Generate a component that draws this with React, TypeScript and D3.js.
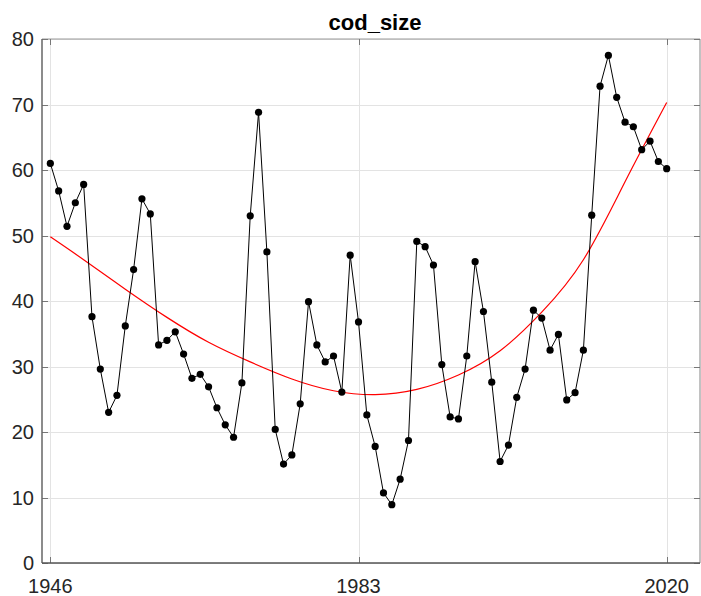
import { useRef, useEffect } from "react";
import * as d3 from "d3";

const years = d3.range(1946, 2021);
const codSize = [
  61.0, 56.8, 51.4, 55.0, 57.8, 37.6, 29.6, 23.0, 25.6, 36.2,
  44.8, 55.6, 53.3, 33.3, 34.0, 35.3, 31.9, 28.2, 28.8, 26.9,
  23.7, 21.1, 19.2, 27.5, 53.0, 68.8, 47.5, 20.4, 15.1, 16.5,
  24.3, 39.9, 33.3, 30.7, 31.6, 26.1, 47.0, 36.8, 22.6, 17.8,
  10.7, 8.9, 12.8, 18.7, 49.1, 48.3, 45.5, 30.3, 22.3, 22.0,
  31.6, 46.0, 38.4, 27.6, 15.5, 18.0, 25.3, 29.6, 38.6, 37.4,
  32.5, 34.9, 24.9, 26.0, 32.5, 53.1, 72.8, 77.5, 71.1, 67.3,
  66.6, 63.1, 64.4, 61.3, 60.2,
];
// red trend curve
const trendYears = [1946, 1950, 1955, 1960, 1965, 1970, 1975, 1980, 1985, 1990, 1995, 2000, 2005, 2010, 2015, 2020];
const trendValues = [49.8, 46.3, 41.8, 37.5, 33.7, 30.7, 28.1, 26.3, 25.7, 26.5, 28.7, 32.4, 38.3, 46.3, 58.2, 70.3];
const xTicks = [1946, 1983, 2020];
const yTicks = [0, 10, 20, 30, 40, 50, 60, 70, 80];

export default function App() {
  const svgRef = useRef<SVGSVGElement>(null);
  const width = 701;
  const height = 596;
  const m = { top: 39, right: 1, bottom: 33, left: 42 };

  useEffect(() => {
    if (!svgRef.current) return;
    const svg = d3.select(svgRef.current);
    svg.selectAll("*").remove();

    const x = d3.scaleLinear().domain([1945, 2024]).range([m.left, width - m.right]);
    const y = d3.scaleLinear().domain([0, 80]).range([height - m.bottom, m.top]);
    const font = "'Liberation Sans', Arial, sans-serif";
    const axisColor = "#262626";

    // grid
    const grid = svg.append("g").attr("stroke", "#e3e3e3").attr("stroke-width", 1);
    yTicks.forEach((t) => {
      grid.append("line").attr("x1", x(1945)).attr("x2", x(2024))
        .attr("y1", Math.round(y(t)) + 0.5).attr("y2", Math.round(y(t)) + 0.5);
    });
    xTicks.forEach((t) => {
      grid.append("line").attr("y1", y(0)).attr("y2", y(80))
        .attr("x1", Math.round(x(t)) + 0.5).attr("x2", Math.round(x(t)) + 0.5);
    });

    // box: top and right lighter
    svg.append("line").attr("x1", x(1945)).attr("x2", x(2024))
      .attr("y1", y(80)).attr("y2", y(80)).attr("stroke", "#999").attr("stroke-width", 1.2);
    svg.append("line").attr("x1", x(2024)).attr("x2", x(2024))
      .attr("y1", y(80)).attr("y2", y(0)).attr("stroke", "#999").attr("stroke-width", 1.2);

    // ticks (inward)
    const tk = svg.append("g").attr("stroke", "#777").attr("stroke-width", 1);
    yTicks.forEach((t) => {
      const yy = Math.round(y(t)) + 0.5;
      tk.append("line").attr("x1", x(1945)).attr("x2", x(1945) + 6).attr("y1", yy).attr("y2", yy);
      tk.append("line").attr("x1", x(2024)).attr("x2", x(2024) - 6).attr("y1", yy).attr("y2", yy);
    });
    xTicks.forEach((t) => {
      const xx = Math.round(x(t)) + 0.5;
      tk.append("line").attr("x1", xx).attr("x2", xx).attr("y1", y(0)).attr("y2", y(0) - 6);
      tk.append("line").attr("x1", xx).attr("x2", xx).attr("y1", y(80)).attr("y2", y(80) + 6);
    });

    // left and bottom axes
    svg.append("line").attr("x1", x(1945)).attr("x2", x(1945))
      .attr("y1", y(80)).attr("y2", y(0)).attr("stroke", "#666").attr("stroke-width", 1.5);
    svg.append("line").attr("x1", x(1945)).attr("x2", x(2024))
      .attr("y1", y(0)).attr("y2", y(0)).attr("stroke", "#555").attr("stroke-width", 1.5);

    // tick labels
    svg.append("g").selectAll("text").data(yTicks).join("text")
      .attr("x", x(1945) - 8).attr("y", (d) => y(d)).attr("dy", "0.36em")
      .attr("text-anchor", "end").attr("font-family", font).attr("font-size", 20)
      .attr("fill", axisColor).text((d) => d);
    svg.append("g").selectAll("text").data(xTicks).join("text")
      .attr("x", (d) => x(d)).attr("y", y(0) + 30)
      .attr("text-anchor", "middle").attr("font-family", font).attr("font-size", 20)
      .attr("fill", axisColor).text((d) => d);

    // title
    svg.append("text").attr("x", (x(1945) + x(2024)) / 2 + 4).attr("y", 30)
      .attr("text-anchor", "middle").attr("font-family", font).attr("font-size", 22)
      .attr("font-weight", "bold").attr("fill", "#000").text("cod_size");

    // trend
    svg.append("path").datum(trendValues)
      .attr("d", d3.line<number>().x((_, i) => x(trendYears[i])).y((d) => y(d)).curve(d3.curveNatural))
      .attr("fill", "none").attr("stroke", "#ff0000").attr("stroke-width", 1.2);

    // series
    svg.append("path").datum(codSize)
      .attr("d", d3.line<number>().x((_, i) => x(years[i])).y((d) => y(d)))
      .attr("fill", "none").attr("stroke", "#000").attr("stroke-width", 1);
    svg.append("g").selectAll("circle").data(codSize).join("circle")
      .attr("cx", (_, i) => x(years[i])).attr("cy", (d) => y(d)).attr("r", 3.6)
      .attr("fill", "#000");
  }, []);

  return (
    <div style={{ position: "absolute", left: 0, top: 0, background: "#fff" }}>
      <svg ref={svgRef} width={width} height={height} style={{ display: "block" }} />
    </div>
  );
}
